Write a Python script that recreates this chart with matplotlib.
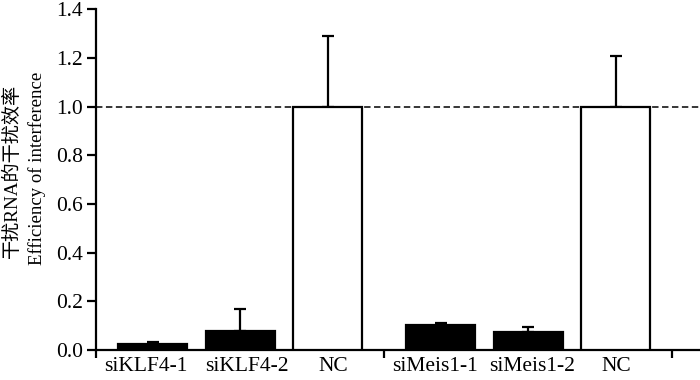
import matplotlib
matplotlib.use("Agg")
import matplotlib.pyplot as plt
import numpy as np

categories = ["siKLF4-1", "siKLF4-2", "NC", "siMeis1-1", "siMeis1-2", "NC"]
values = [0.025, 0.079, 1.0, 0.103, 0.076, 1.0]
errors = [0.007, 0.09, 0.292, 0.008, 0.02, 0.208]
fills = ["black", "black", "white", "black", "black", "white"]
yticks = [0.0, 0.2, 0.4, 0.6, 0.8, 1.0, 1.2, 1.4]
ytick_labels = ["0.0", "0.2", "0.4", "0.6", "0.8", "1.0", "1.2", "1.4"]
ylabel_cn = "干扰RNA的干扰效率"
ylabel_en = "Efficiency of interference"

# layout (in axis units)
group_step = 3.291
offsets = [0.65, 1.65, 2.65]
positions = [g * group_step + o for g in range(2) for o in offsets]
label_positions = [0.57, 1.72, 2.71, 3.87, 4.98, 5.95]
major_ticks = [0, group_step, 2 * group_step]

serif = ["Liberation Serif", "Noto Sans CJK SC", "DejaVu Sans"]
plt.rcParams["font.family"] = serif

fig = plt.figure(figsize=(7, 3.8), dpi=100)
ax = fig.add_axes([96 / 700, 30 / 380, 604 / 700, (350 - 9.4) / 380])

ax.bar(positions, values, width=0.79, color=fills, edgecolor="black",
       linewidth=1.6, zorder=3)
ax.errorbar(positions, values, yerr=[np.zeros(len(errors)), errors],
            fmt="none", ecolor="black", elinewidth=1.6, capsize=4.0,
            capthick=1.6, zorder=2)

ax.axhline(1.0, color="black", linestyle=(0, (4.2, 2.3)), linewidth=1.1, zorder=1)

ax.set_xlim(0, 604 / 87.5)
ax.set_ylim(0, 1.4)

ax.spines["top"].set_visible(False)
ax.spines["right"].set_visible(False)
ax.spines["left"].set_linewidth(1.6)
ax.spines["bottom"].set_linewidth(1.6)

ax.set_yticks(yticks)
ax.set_yticklabels(ytick_labels)
ax.tick_params(axis="y", direction="out", length=6.5, width=1.6, pad=3,
               labelsize=15.5)

ax.set_xticks(major_ticks)
ax.set_xticklabels([])
ax.tick_params(axis="x", which="major", direction="out", length=5.5, width=1.6)
ax.set_xticks(label_positions, minor=True)
ax.set_xticklabels(categories, minor=True)
ax.tick_params(axis="x", which="minor", length=0, pad=5, labelsize=15.5)

fig.text(12 / 700, 1 - 171 / 380, ylabel_cn, rotation=90, ha="center",
         va="center", fontsize=13.8, family=serif)
fig.text(37 / 700, 1 - 168 / 380, ylabel_en, rotation=90, ha="center",
         va="center", fontsize=13.5, family=serif)

fig.savefig("out.png", dpi=100)
